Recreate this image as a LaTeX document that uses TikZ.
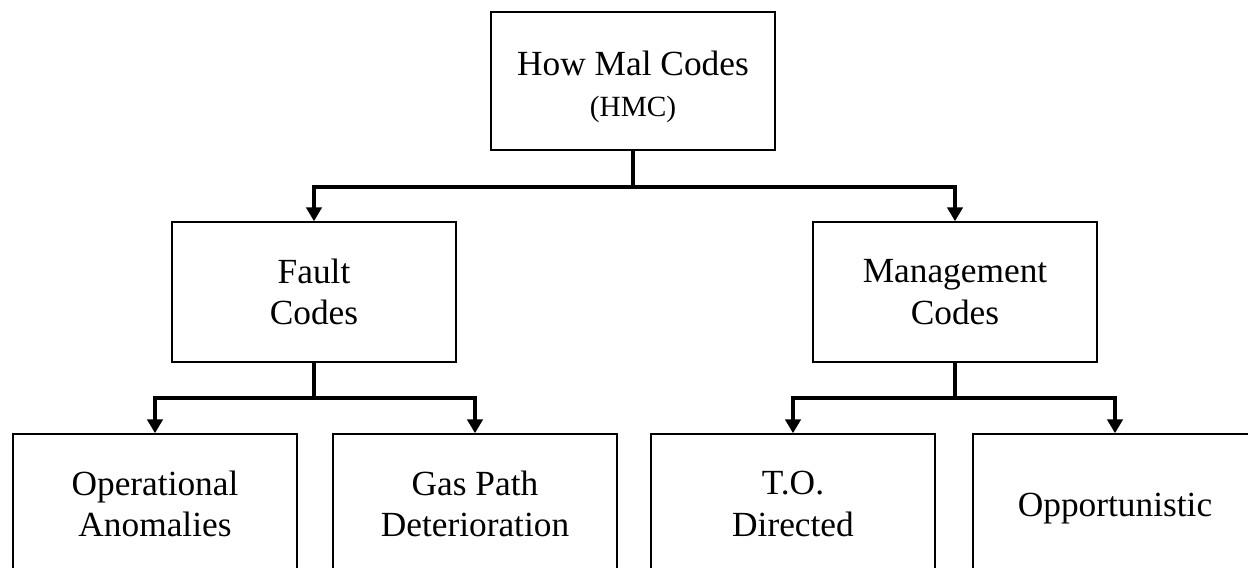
\documentclass[tikz,border=0pt]{standalone}
\usepackage{fontspec}
\setmainfont{Liberation Serif}
\usetikzlibrary{arrows.meta}
\tikzset{
  box/.style={draw=black, line width=1.1pt, minimum width=213pt, align=center, inner sep=0pt,
    font=\fontsize{26.5}{31}\selectfont},
  link/.style={line width=2.6pt},
  conn/.style={link, -{Triangle[width=11.5pt,length=10.5pt]}}
}
\begin{document}
\begin{tikzpicture}[x=0.75pt,y=-0.75pt]
\clip (0,0) rectangle (1248,567);
\fill[white] (0,0) rectangle (1248,567);
\node[box, minimum height=103.5pt] (top) at (633,81) {\rule{0pt}{27pt}How Mal Codes\\{\fontsize{22}{26}\selectfont (HMC)}};
\node[box, minimum height=105pt] (fault) at (314,292) {Fault\\Codes};
\node[box, minimum height=105pt] (mgmt) at (955,292) {Management\\Codes};
\node[box, minimum height=105pt] (oa) at (155,504) {Operational\\Anomalies};
\node[box, minimum height=105pt] (gp) at (475,504) {Gas Path\\Deterioration};
\node[box, minimum height=105pt] (to) at (793,504) {T.O.\\Directed};
\node[box, minimum height=105pt] (op) at (1115,504) {\rule{0pt}{24.8pt}Opportunistic};
\coordinate (j1) at (633,187);
\coordinate (j2) at (314,398);
\coordinate (j3) at (955,398);
\draw[link] (top.south) -- (j1);
\draw[conn] (j1) -| (fault.north);
\draw[conn] (j1) -| (mgmt.north);
\draw[link] (fault.south) -- (j2);
\draw[conn] (j2) -| (oa.north);
\draw[conn] (j2) -| (gp.north);
\draw[link] (mgmt.south) -- (j3);
\draw[conn] (j3) -| (to.north);
\draw[conn] (j3) -| (op.north);
\end{tikzpicture}
\end{document}
